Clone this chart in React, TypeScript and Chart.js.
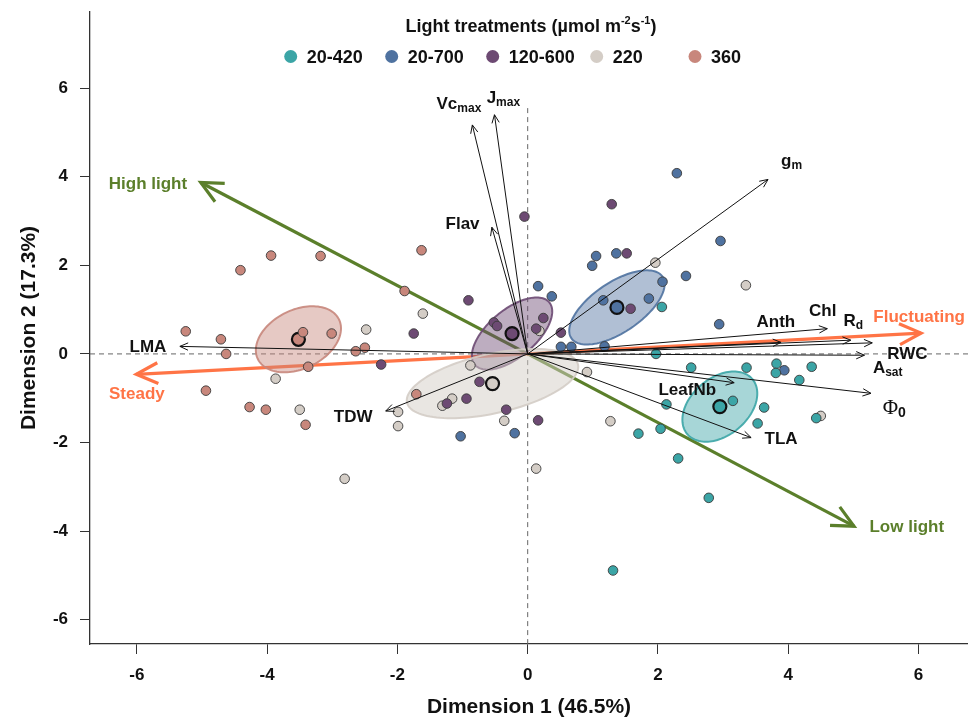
import React, { useEffect, useRef } from "react";
import { Chart, registerables } from "chart.js";

Chart.register(...registerables);

const FONT = '"Liberation Sans", Arial, Helvetica, sans-serif';
const SERIF = '"Liberation Serif", "DejaVu Serif", serif';

// ---------- data ----------
const GROUP_NAMES = ["20-420", "20-700", "120-600", "220", "360"];
const GROUP_COLORS = ["#3BA5A6", "#4F72A0", "#6D4A73", "#D4CDC6", "#C8877C"];

const TEAL_X = [2.06, 1.97, 2.51, 3.36, 3.82, 3.81, 4.36, 4.17, 2.13, 3.15, 3.63, 3.53, 2.04, 1.7, 4.43, 2.31, 2.78, 1.31];
const TEAL_Y = [1.06, 0.0, -0.31, -0.31, -0.22, -0.43, -0.29, -0.59, -1.14, -1.06, -1.21, -1.57, -1.69, -1.8, -1.45, -2.36, -3.25, -4.89];
const BLUE_X = [2.29, 2.96, 1.05, 1.36, 0.99, 2.07, 2.43, 0.16, 0.37, 1.16, 1.86, 0.51, 0.67, 1.18, 2.94, 3.94, -1.03, -0.2];
const BLUE_Y = [4.08, 2.55, 2.21, 2.27, 1.99, 1.63, 1.76, 1.53, 1.3, 1.21, 1.25, 0.16, 0.16, 0.17, 0.67, -0.37, -1.86, -1.79];
const PURPLE_X = [-2.25, -0.05, 1.29, 1.52, -0.91, 0.24, -0.52, -0.47, 0.13, -1.75, 0.51, 1.58, -0.74, -1.24, -0.94, -0.33, 0.16];
const PURPLE_Y = [-0.24, 3.1, 3.38, 2.27, 1.21, 0.81, 0.71, 0.63, 0.57, 0.46, 0.48, 1.02, -0.63, -1.12, -1.01, -1.26, -1.5];
const BEIGE_X = [-3.87, -3.5, -2.48, -1.61, -0.88, -1.16, -1.31, -1.99, -1.99, -0.36, 0.13, -2.81, 0.18, 0.91, 1.27, 1.96, 3.35, 4.5];
const BEIGE_Y = [-0.56, -1.26, 0.55, 0.91, -0.26, -1.01, -1.17, -1.31, -1.63, -1.51, -2.59, -2.82, 0.52, -0.41, -1.52, 2.06, 1.55, -1.4];
const SALMON_X = [-3.94, -3.18, -4.41, -5.25, -4.71, -4.63, -3.45, -3.01, -3.37, -4.94, -4.27, -4.02, -3.41, -2.64, -2.5, -1.63, -1.89, -1.71];
const SALMON_Y = [2.22, 2.21, 1.89, 0.51, 0.33, 0.0, 0.49, 0.46, -0.29, -0.83, -1.2, -1.26, -1.6, 0.06, 0.14, 2.34, 1.42, -0.91];

const GROUP_X = [TEAL_X, BLUE_X, PURPLE_X, BEIGE_X, SALMON_X];
const GROUP_Y = [TEAL_Y, BLUE_Y, PURPLE_Y, BEIGE_Y, SALMON_Y];

// group centroids
const CENTROID_X = [2.95, 1.37, -0.24, -0.54, -3.52];
const CENTROID_Y = [-1.19, 1.05, 0.46, -0.67, 0.33];

// confidence ellipse semi-axis vectors (data units)
const ELLIPSE_UX = [0.501, 0.7, 0.571, 1.313, 0.623];
const ELLIPSE_UY = [0.619, 0.695, 0.705, 0.428, 0.447];
const ELLIPSE_VX = [0.282, 0.215, 0.233, 0.0986, 0.198];
const ELLIPSE_VY = [-0.495, -0.468, -0.409, -0.655, -0.597];

// variable loadings (arrow tips)
const VAR_MAIN = ["LMA", "TDW", "Vc", "J", "Flav", "g", "Anth", "Chl", "R", "RWC", "A", "Φ", "LeafNb", "TLA"];
const VAR_SUB = ["", "", "max", "max", "", "m", "", "", "d", "", "sat", "0", "", ""];
const VAR_X = [-5.34, -2.18, -0.85, -0.51, -0.55, 3.69, 3.89, 4.6, 4.96, 5.29, 5.17, 5.27, 3.17, 3.43];
const VAR_Y = [0.17, -1.29, 5.17, 5.4, 2.86, 3.94, 0.26, 0.57, 0.31, 0.25, -0.03, -0.89, -0.65, -1.89];
const VAR_LABEL_X = [-5.83, -2.68, -1.4, -0.63, -1.0, 3.89, 3.81, 4.53, 4.85, 5.83, 5.3, 5.45, 2.45, 3.89];
const VAR_LABEL_Y = [0.17, -1.41, 5.66, 5.81, 2.95, 4.38, 0.75, 0.99, 0.76, 0.03, -0.29, -1.22, -0.8, -1.89];
const VAR_ALIGN = ["center", "center", "left", "left", "center", "left", "center", "center", "left", "center", "left", "left", "center", "center"];

// supplementary directions
const SUPP_NAMES = ["High light", "Low light", "Steady", "Fluctuating"];
const SUPP_X = [-5.02, 5.01, -6.01, 6.04];
const SUPP_Y = [3.87, -3.89, -0.46, 0.47];
const SUPP_LABEL_X = [-5.83, 5.82, -6.0, 6.01];
const SUPP_LABEL_Y = [3.87, -3.89, -0.88, 0.85];
const SUPP_COLORS = ["#5B7F2B", "#5B7F2B", "#FF7446", "#FF7446"];

const X_TICKS = [-6, -4, -2, 0, 2, 4, 6];
const Y_TICKS = [-6, -4, -2, 0, 2, 4, 6];
const X_MIN = -6.72;
const X_MAX = 6.76;
const Y_MIN = -6.55;
const Y_MAX = 7.72;
const VLINE_TOP = 5.55;

// ---------- helpers ----------
function hexA(hex: string, a: number) {
  const n = parseInt(hex.slice(1), 16);
  return `rgba(${(n >> 16) & 255},${(n >> 8) & 255},${n & 255},${a})`;
}

function drawArrow(ctx: CanvasRenderingContext2D, x0: number, y0: number, x1: number, y1: number, head: number, color: string, width: number, ang: number) {
  ctx.strokeStyle = color;
  ctx.lineWidth = width;
  ctx.lineCap = "butt";
  ctx.lineJoin = "miter";
  ctx.beginPath();
  ctx.moveTo(x0, y0);
  ctx.lineTo(x1, y1);
  ctx.stroke();
  const a = Math.atan2(y1 - y0, x1 - x0);
  ctx.beginPath();
  ctx.moveTo(x1 - head * Math.cos(a - ang), y1 - head * Math.sin(a - ang));
  ctx.lineTo(x1, y1);
  ctx.lineTo(x1 - head * Math.cos(a + ang), y1 - head * Math.sin(a + ang));
  ctx.stroke();
}

type Part = { text: string; font: string; dy: number };
function drawRich(ctx: CanvasRenderingContext2D, parts: Part[], x: number, baseline: number, align: string, color: string) {
  let total = 0;
  const widths = parts.map((p) => {
    ctx.font = p.font;
    const w = ctx.measureText(p.text).width;
    total += w;
    return w;
  });
  let cx = align === "center" ? x - total / 2 : x;
  ctx.fillStyle = color;
  ctx.textAlign = "left";
  ctx.textBaseline = "alphabetic";
  parts.forEach((p, i) => {
    ctx.font = p.font;
    ctx.fillText(p.text, cx, baseline + p.dy);
    cx += widths[i];
  });
}

const biplotPlugin = {
  id: "biplot",
  beforeDatasetsDraw(chart: any) {
    const { ctx, chartArea } = chart;
    const xs = chart.scales.x;
    const ys = chart.scales.y;
    const px = (v: number) => xs.getPixelForValue(v);
    const py = (v: number) => ys.getPixelForValue(v);
    ctx.save();
    // zero lines
    ctx.setLineDash([5, 4]);
    ctx.strokeStyle = "#666";
    ctx.lineWidth = 1;
    ctx.beginPath();
    ctx.moveTo(chartArea.left, py(0));
    ctx.lineTo(chartArea.right, py(0));
    ctx.stroke();
    ctx.beginPath();
    ctx.moveTo(px(0), py(VLINE_TOP));
    ctx.lineTo(px(0), chartArea.bottom);
    ctx.stroke();
    ctx.setLineDash([]);
    // supplementary arrows
    for (let i = 0; i < SUPP_X.length; i++) {
      drawArrow(ctx, px(0), py(0), px(SUPP_X[i]), py(SUPP_Y[i]), 24, SUPP_COLORS[i], 3.2, 0.45);
    }
    // ellipses
    for (let g = 0; g < GROUP_NAMES.length; g++) {
      ctx.beginPath();
      for (let k = 0; k <= 120; k++) {
        const t = (k / 120) * Math.PI * 2;
        const X = CENTROID_X[g] + ELLIPSE_UX[g] * Math.cos(t) + ELLIPSE_VX[g] * Math.sin(t);
        const Y = CENTROID_Y[g] + ELLIPSE_UY[g] * Math.cos(t) + ELLIPSE_VY[g] * Math.sin(t);
        if (k === 0) ctx.moveTo(px(X), py(Y));
        else ctx.lineTo(px(X), py(Y));
      }
      ctx.closePath();
      ctx.fillStyle = hexA(GROUP_COLORS[g], g === 3 ? 0.5 : 0.45);
      ctx.fill();
      ctx.strokeStyle = hexA(GROUP_COLORS[g], 0.9);
      ctx.lineWidth = 2;
      ctx.stroke();
    }
    ctx.restore();
  },
  afterDatasetsDraw(chart: any) {
    const { ctx } = chart;
    const xs = chart.scales.x;
    const ys = chart.scales.y;
    const px = (v: number) => xs.getPixelForValue(v);
    const py = (v: number) => ys.getPixelForValue(v);
    ctx.save();
    // variable arrows
    for (let i = 0; i < VAR_X.length; i++) {
      drawArrow(ctx, px(0), py(0), px(VAR_X[i]), py(VAR_Y[i]), 9, "#111", 1, 0.42);
    }
    // variable labels
    const mainFont = `bold 17px ${FONT}`;
    const subFont = `bold 12px ${FONT}`;
    for (let i = 0; i < VAR_MAIN.length; i++) {
      const parts: Part[] = [];
      if (VAR_MAIN[i] === "Φ") {
        parts.push({ text: "Φ", font: `21px ${SERIF}`, dy: 0 });
        parts.push({ text: VAR_SUB[i], font: `bold 14px ${FONT}`, dy: 3 });
      } else {
        parts.push({ text: VAR_MAIN[i], font: mainFont, dy: 0 });
        if (VAR_SUB[i]) parts.push({ text: VAR_SUB[i], font: subFont, dy: 3 });
      }
      drawRich(ctx, parts, px(VAR_LABEL_X[i]), py(VAR_LABEL_Y[i]) + 6.1, VAR_ALIGN[i], "#111");
    }
    // supplementary labels
    for (let i = 0; i < SUPP_NAMES.length; i++) {
      drawRich(ctx, [{ text: SUPP_NAMES[i], font: mainFont, dy: 0 }], px(SUPP_LABEL_X[i]), py(SUPP_LABEL_Y[i]) + 6.1, "center", SUPP_COLORS[i]);
    }
    ctx.restore();
  },
  afterDraw(chart: any) {
    const { ctx } = chart;
    ctx.save();
    // legend title
    const tf = `bold 18px ${FONT}`;
    const sf = `bold 11px ${FONT}`;
    drawRich(
      ctx,
      [
        { text: "Light treatments (µmol m", font: tf, dy: 0 },
        { text: "-2", font: sf, dy: -8 },
        { text: "s", font: tf, dy: 0 },
        { text: "-1", font: sf, dy: -8 },
        { text: ")", font: tf, dy: 0 },
      ],
      531,
      31.5,
      "center",
      "#111"
    );
    // legend items
    const mx = [290.7, 391.7, 492.7, 596.7, 695];
    for (let g = 0; g < GROUP_NAMES.length; g++) {
      ctx.beginPath();
      ctx.arc(mx[g], 56.5, 6.5, 0, Math.PI * 2);
      ctx.fillStyle = GROUP_COLORS[g];
      ctx.fill();
      drawRich(ctx, [{ text: GROUP_NAMES[g], font: tf, dy: 0 }], mx[g] + 16, 63, "left", "#111");
    }
    ctx.restore();
  },
};

function zeroPad(s: any) {
  s.paddingLeft = 0;
  s.paddingRight = 0;
  s.paddingTop = 0;
  s.paddingBottom = 0;
}

export default function App() {
  const ref = useRef<HTMLCanvasElement | null>(null);
  useEffect(() => {
    if (!ref.current) return;
    const datasets: any[] = GROUP_NAMES.map((name, g) => ({
      label: name,
      data: GROUP_X[g].map((x, i) => ({ x, y: GROUP_Y[g][i] })),
      backgroundColor: GROUP_COLORS[g],
      borderColor: "#3a3a3a",
      borderWidth: 0.9,
      pointRadius: 4.8,
      showLine: false,
    }));
    datasets.push({
      label: "centroids",
      data: CENTROID_X.map((x, i) => ({ x, y: CENTROID_Y[i] })),
      backgroundColor: GROUP_COLORS,
      borderColor: "#111",
      borderWidth: 2.2,
      pointRadius: 6.5,
      showLine: false,
    });
    const tickFont = { family: FONT, size: 17, weight: "bold" as const };
    const titleFont = { family: FONT, size: 21, weight: "bold" as const };
    const chart = new Chart(ref.current, {
      type: "scatter",
      data: { datasets },
      plugins: [biplotPlugin],
      options: {
        responsive: false,
        animation: false,
        events: [],
        layout: { autoPadding: false, padding: { top: 12, right: 0, left: 0, bottom: 0 } },
        plugins: { legend: { display: false }, tooltip: { enabled: false } },
        scales: {
          x: {
            type: "linear",
            min: X_MIN,
            max: X_MAX,
            afterBuildTicks: (s: any) => {
              s.ticks = X_TICKS.map((v) => ({ value: v }));
            },
            afterFit: (s: any) => {
              s.height = 78;
              zeroPad(s);
            },
            grid: { display: true, drawOnChartArea: false, drawTicks: true, tickLength: 10, color: "#333", lineWidth: 1 },
            border: { display: true, color: "#333", width: 1.3 },
            ticks: { font: tickFont, color: "#111", padding: 11, maxRotation: 0, callback: (v: any) => String(v) },
            title: { display: true, text: "Dimension 1 (46.5%)", font: titleFont, color: "#111", padding: { top: 0, bottom: 2 } },
          },
          y: {
            type: "linear",
            min: Y_MIN,
            max: Y_MAX,
            afterBuildTicks: (s: any) => {
              s.ticks = Y_TICKS.map((v) => ({ value: v }));
            },
            afterFit: (s: any) => {
              s.width = 90;
              zeroPad(s);
            },
            grid: { display: true, drawOnChartArea: false, drawTicks: true, tickLength: 10, color: "#333", lineWidth: 1 },
            border: { display: true, color: "#333", width: 1.3 },
            ticks: { font: tickFont, color: "#111", padding: 12, callback: (v: any) => String(v) },
            title: { display: true, text: "Dimension 2 (17.3%)", font: titleFont, color: "#111", padding: { top: 17, bottom: 0 } },
          },
        },
      },
    });
    return () => chart.destroy();
  }, []);
  return (
    <div style={{ position: "absolute", left: 0, top: 0, width: 968, height: 722, background: "#fff" }}>
      <canvas ref={ref} width={968} height={722} style={{ display: "block" }} />
    </div>
  );
}
